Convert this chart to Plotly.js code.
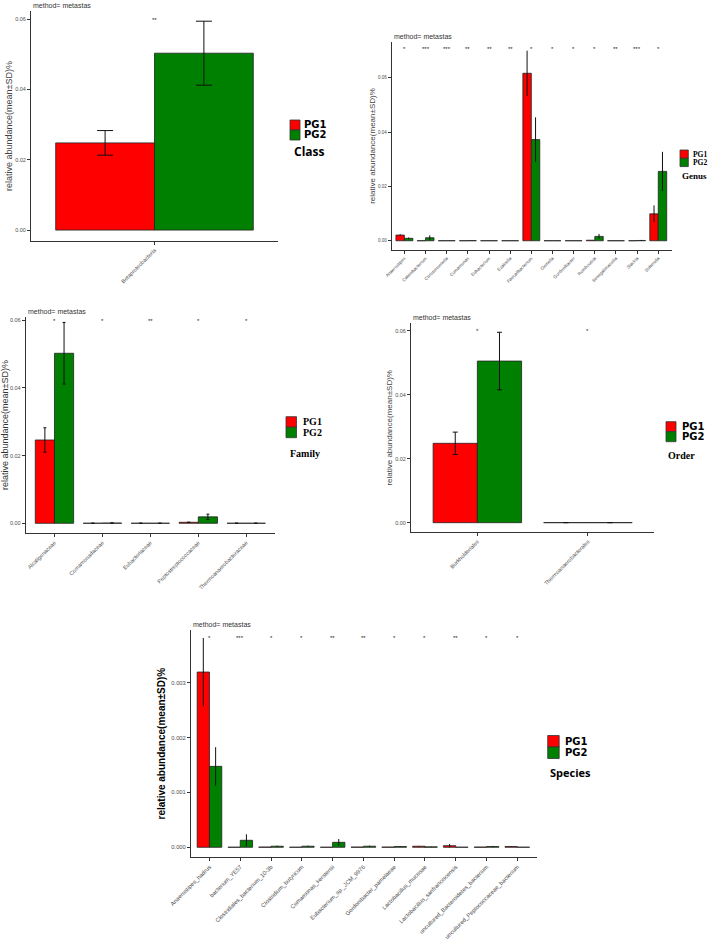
<!DOCTYPE html>
<html><head><meta charset="utf-8">
<script src="https://cdn.plot.ly/plotly-3.0.1.min.js"></script>
<style>html,body{margin:0;padding:0;background:#fff}</style>
</head><body><div id="chart" style="width:709px;height:942px"></div>
<script>
// ---------- data ----------
const groups = ["PG1", "PG2"];
const groupColors = ["#FF0000", "#008000"];

const classCats = ["Betaproteobacteria"];
const classPG1 = [0.0248];
const classPG1sd = [0.0035];
const classPG2 = [0.0503];
const classPG2sd = [0.0091];
const classStars = ["**"];

const genusCats = ["Anaerostipes","Catenibacterium","Christensenella","Comamonas","Eubacterium","Ezakiella","Faecalibacterium","Gemella","Gordonibacter","Romboutsia","Senegalimassilia","Slackia","Sutterella"];
const genusPG1 = [0.0021, 0.00002, 0.00002, 0.00002, 0.00002, 0.00002, 0.0616, 0.00002, 0.00002, 0.0002, 0.00002, 0.00002, 0.0099];
const genusPG1sd = [0.0003, 0, 0, 0, 0, 0, 0.0083, 0, 0, 0, 0, 0, 0.0031];
const genusPG2 = [0.0009, 0.0011, 0.00003, 0.00005, 0.00002, 0.00002, 0.0372, 0.00002, 0.00002, 0.0016, 0.00002, 0.0001, 0.0255];
const genusPG2sd = [0.0003, 0.0009, 0, 0, 0, 0, 0.0082, 0, 0, 0.0009, 0, 0.0002, 0.0072];
const genusStars = ["*","***","***","**","**","**","*","*","*","*","**","***","*"];

const familyCats = ["Alcaligenaceae","Comamonadaceae","Eubacteriaceae","Peptostreptococcaceae","Thermoanaerobacteraceae"];
const familyPG1 = [0.0246, 0.00003, 0.00003, 0.0003, 0.00003];
const familyPG1sd = [0.0036, 0, 0, 0, 0];
const familyPG2 = [0.0502, 0.0001, 0.00003, 0.0019, 0.00003];
const familyPG2sd = [0.0091, 0, 0, 0.0008, 0];
const familyStars = ["*","*","**","*","*"];

const orderCats = ["Burkholderiales","Thermoanaerobacterales"];
const orderPG1 = [0.0248, 0.00003];
const orderPG1sd = [0.0035, 0];
const orderPG2 = [0.0505, 0.00003];
const orderPG2sd = [0.0090, 0];
const orderStars = ["*","*"];

const speciesCats = ["Anaerostipes_hadrus","bacterium_YE57","Clostridiales_bacterium_10-3b","Clostridium_butyricum","Comamonas_kerstersii","Eubacterium_sp._JCM_9976","Gordonibacter_pamelaeae","Lactobacillus_mucosae","Lactobacillus_sanfranciscensis","uncultured_Bacteroidetes_bacterium","uncultured_Peptococcaceae_bacterium"];
const speciesPG1 = [0.003194, 0.000002, 0.000005, 0.000002, 0.000002, 0.000005, 0.000005, 0.00002, 0.00003, 0.000005, 0.000015];
const speciesPG1sd = [0.00062, 0, 0, 0, 0, 0, 0, 0.000005, 0.00003, 0, 0.000005];
const speciesPG2 = [0.001475, 0.000128, 0.00002, 0.00002, 0.000091, 0.00002, 0.000015, 0.000008, 0.000003, 0.000015, 0.000003];
const speciesPG2sd = [0.00035, 0.00011, 0.00001, 0.00001, 0.00006, 0.00001, 0.000005, 0.000005, 0, 0.00001, 0];
const speciesStars = ["*","***","*","*","**","**","*","*","**","*","*"];

const panelNames = ["Class","Genus","Family","Order","Species"];
const yTitle = "relative abundance(mean\u00B1SD)%";
const methodLabel = "method= metastas";

// ---------- layout config (positions / styles) ----------
const W = 709, H = 942;
const px = v => v / W;
const py = v => 1 - v / H;
const tickCol = "#4d4d4d";

const panels = [
  {cats: classCats, v: [classPG1, classPG2], sd: [classPG1sd, classPG2sd], stars: classStars,
   box: [31, 11, 278, 241], yr: [-0.0031, 0.0623], xr: [-0.5, 0.5], starY: 0.0597, gap: 0.1,
   dtick: 0.02, fmt: ".2f", cap: 8, tickFont: 5.5, titleFont: {size: 9, color: "#444", family: "Liberation Sans"},
   titleStand: 1,
   leg: {x: 290, y: 120, s: 10, tf: {family: "DejaVu Sans", size: 10, color: "#000"}, tx: 302, title: {x: 292, y: 152, font: {family: "Open Sans", size: 12, color: "#000"}}}},
  {cats: genusCats, v: [genusPG1, genusPG2], sd: [genusPG1sd, genusPG2sd], stars: genusStars,
   box: [391.7, 42, 672, 250], yr: [-0.0034, 0.0731], xr: [-0.6, 12.65], starY: 0.0705, gap: 0.06,
   dtick: 0.02, fmt: ".2f", cap: 0, tickFont: 4.5, titleFont: {size: 8, color: "#444", family: "Liberation Sans"},
   titleStand: 1,
   leg: {x: 680, y: 150, s: 8.3, tf: {family: "Liberation Serif", size: 7.5, color: "#000"}, tx: 691, title: {x: 680, y: 176, font: {family: "Liberation Serif", size: 9, color: "#000"}}}},
  {cats: familyCats, v: [familyPG1, familyPG2], sd: [familyPG1sd, familyPG2sd], stars: familyStars,
   box: [25.7, 316.7, 275, 533.3], yr: [-0.00295, 0.061], xr: [-0.6, 4.6], starY: 0.0597, gap: 0.09,
   dtick: 0.02, fmt: ".2f", cap: 1.5, tickFont: 5.5, titleFont: {size: 9, color: "#333", family: "Liberation Sans"},
   titleStand: 2,
   leg: {x: 286, y: 416.7, s: 10.5, tf: {family: "Liberation Serif", size: 10, color: "#000"}, tx: 301, title: {x: 288, y: 453.7, font: {family: "Liberation Serif", size: 10, color: "#000"}}}},
  {cats: orderCats, v: [orderPG1, orderPG2], sd: [orderPG1sd, orderPG2sd], stars: orderStars,
   box: [411, 323.3, 654.3, 532.3], yr: [-0.003, 0.0623], xr: [-0.6, 1.6], starY: 0.0599, gap: 0.1,
   dtick: 0.02, fmt: ".2f", cap: 2.5, tickFont: 5.5, titleFont: {size: 8, color: "#444", family: "Liberation Sans"},
   titleStand: 1,
   leg: {x: 666, y: 421.7, s: 10, tf: {family: "DejaVu Sans", size: 10, color: "#000"}, tx: 680, title: {x: 666, y: 455.7, font: {family: "Liberation Serif", size: 10, color: "#000"}}}},
  {cats: speciesCats, v: [speciesPG1, speciesPG2], sd: [speciesPG1sd, speciesPG2sd], stars: speciesStars,
   box: [191, 630, 536.7, 857.3], yr: [-0.000182, 0.00396], xr: [-0.6, 10.63], starY: 0.00382, gap: 0.1,
   dtick: 0.001, fmt: ".3f", cap: 0, tickFont: 5.8, titleFont: {size: 10, color: "#000", family: "Liberation Sans", weight: "bold"},
   titleStand: 3,
   leg: {x: 547.7, y: 735.5, s: 11.5, tf: {family: "DejaVu Sans", size: 10, color: "#000"}, tx: 563, title: {x: 547.5, y: 772.5, font: {family: "Open Sans", size: 11, color: "#000"}}}}
];

const traces = [];
const layout = {
  width: W, height: H, margin: {l: 0, r: 0, t: 0, b: 0},
  paper_bgcolor: "#fff", plot_bgcolor: "rgba(0,0,0,0)",
  showlegend: false, barmode: "group",
  annotations: [], shapes: []
};

panels.forEach((p, i) => {
  const n = i + 1;
  const xa = n === 1 ? "x" : "x" + n;
  const ya = n === 1 ? "y" : "y" + n;
  const xKey = n === 1 ? "xaxis" : "xaxis" + n;
  const yKey = n === 1 ? "yaxis" : "yaxis" + n;
  groups.forEach((g, k) => {
    traces.push({
      type: "bar", name: g, x: p.cats, y: p.v[k], xaxis: xa, yaxis: ya,
      offsetgroup: g, showlegend: false,
      marker: {color: groupColors[k], line: {color: "#222", width: 0.8}},
      error_y: {type: "data", array: p.sd[k], visible: true, color: "#111", thickness: 1, width: p.cap},
      hoverinfo: "x+y+name"
    });
  });
  const [x0, y0, x1, y1] = p.box;
  layout[xKey] = {
    domain: [px(x0), px(x1)], anchor: ya, type: "category", range: p.xr,
    showline: true, linecolor: "#333", linewidth: 1, ticks: "outside", ticklen: 3, tickcolor: "#333",
    tickangle: -45, tickfont: {size: p.tickFont, color: tickCol, family: "Liberation Sans"},
    showgrid: false, zeroline: false, fixedrange: true
  };
  layout[yKey] = {
    domain: [py(y1), py(y0)], anchor: xa, range: p.yr, dtick: p.dtick, tick0: 0, tickformat: p.fmt,
    showline: true, linecolor: "#333", linewidth: 1, ticks: "outside", ticklen: 3, tickcolor: "#333",
    tickfont: {size: p.tickFont, color: tickCol, family: "Liberation Sans"},
    showgrid: false, zeroline: false, fixedrange: true,
    title: {text: yTitle, font: p.titleFont, standoff: p.titleStand}
  };
  layout.annotations.push({
    xref: "paper", yref: "paper", x: px(x0), y: py(y0), xanchor: "left", yanchor: "bottom",
    text: methodLabel, showarrow: false, font: {size: 7, color: "#333", family: "Liberation Sans"}
  });
  p.cats.forEach((c, j) => {
    layout.annotations.push({
      xref: xa, yref: ya, x: c, y: p.starY, text: p.stars[j], showarrow: false,
      font: {size: 6, color: "#222", family: "Liberation Sans"}, xanchor: "center", yanchor: "middle"
    });
  });
  const L = p.leg;
  groups.forEach((g, k) => {
    const top = L.y + k * L.s;
    layout.shapes.push({
      type: "rect", xref: "paper", yref: "paper",
      x0: px(L.x), x1: px(L.x + L.s), y0: py(top + L.s), y1: py(top),
      fillcolor: groupColors[k], line: {color: "#333", width: 0.8}
    });
    layout.annotations.push({
      xref: "paper", yref: "paper", x: px(L.tx), y: py(top + L.s / 2), xanchor: "left", yanchor: "middle",
      text: "<b>" + g + "</b>", showarrow: false, font: L.tf
    });
  });
  layout.annotations.push({
    xref: "paper", yref: "paper", x: px(L.title.x), y: py(L.title.y), xanchor: "left", yanchor: "middle",
    text: "<b>" + panelNames[i] + "</b>", showarrow: false, font: L.title.font
  });
});

Plotly.newPlot("chart", traces, layout, {displayModeBar: false, staticPlot: true});
</script>
</body></html>
